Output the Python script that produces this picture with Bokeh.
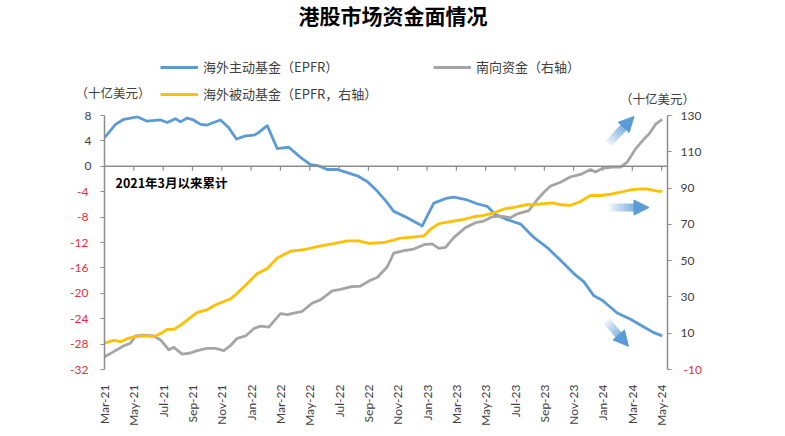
import numpy as np
from bokeh.plotting import figure
from bokeh.layouts import column, row
from bokeh.models import (Range1d, LinearAxis, FixedTicker, Label, Legend, LegendItem,
                          Arrow, NormalHead, Span)
from bokeh.embed import file_html
from bokeh.resources import INLINE

# ---------------- data (months since Mar-2021) ----------------
month_ticks = list(range(0, 39, 2))
month_labels = ["Mar-21", "May-21", "Jul-21", "Sep-21", "Nov-21", "Jan-22", "Mar-22",
                "May-22", "Jul-22", "Sep-22", "Nov-22", "Jan-23", "Mar-23", "May-23",
                "Jul-23", "Sep-23", "Nov-23", "Jan-24", "Mar-24", "May-24"]

left_ticks = [-32, -28, -24, -20, -16, -12, -8, -4, 0, 4, 8]
right_ticks = [-10, 10, 30, 50, 70, 90, 110, 130]

# 海外主动基金（EPFR）, left axis
active_t = [0, 0.75, 1.32, 2.23, 2.91, 3.82, 4.28, 4.84, 5.18, 5.64, 6.07, 6.55, 7.0, 7.44,
            7.91, 8.46, 9.0, 9.62, 10.18, 10.5, 11.1, 11.78, 12.57, 13.37, 14.05, 14.62,
            15.19, 15.87, 16.56, 17.24, 17.92, 18.6, 19.17, 19.73, 20.65, 21.67, 22.46,
            23.38, 23.83, 24.74, 25.42, 26.1, 26.67, 27.47, 28.38, 29.28, 30.2, 31.1,
            32.01, 32.7, 33.38, 33.95, 34.97, 35.88, 36.79, 37.47, 38.04]
active_v = [4.5, 6.6, 7.4, 7.8, 7.1, 7.3, 6.9, 7.5, 7.0, 7.6, 7.3, 6.6, 6.5, 6.9,
            7.3, 6.1, 4.3, 4.8, 4.9, 5.3, 6.4, 2.8, 3.0, 1.4, 0.26, 0.05,
            -0.5, -0.5, -1.0, -1.5, -2.4, -3.9, -5.4, -7.1, -8.1, -9.4, -5.8,
            -5.0, -4.85, -5.3, -5.9, -6.3, -7.6, -8.4, -9.1, -11.2, -12.8, -14.8,
            -16.9, -18.2, -20.4, -21.1, -23.1, -24.1, -25.3, -26.2, -26.7]

# 南向资金（右轴）
south_t = [0, 0.75, 1.32, 1.77, 2.11, 2.68, 3.36, 3.82, 4.39, 4.73, 5.3, 5.87, 6.32, 7.0,
           7.57, 8.14, 8.59, 9.05, 9.62, 10.18, 10.64, 11.21, 12.0, 12.46, 13.49, 14.17,
           14.73, 15.53, 16.1, 16.78, 17.46, 18.14, 18.6, 19.05, 19.28, 19.73, 20.42,
           21.1, 21.78, 22.35, 22.8, 23.26, 23.83, 24.62, 25.31, 25.87, 26.45, 27.01,
           27.69, 28.15, 28.94, 29.52, 29.97, 30.42, 31.1, 31.79, 32.47, 33.15, 33.49,
           33.95, 34.63, 35.2, 35.65, 36.22, 36.79, 37.13, 37.59, 38.04]
south_v = [-3.0, 0.4, 3.1, 4.5, 8.5, 9.0, 8.5, 6.3, 0.9, 2.2, -1.5, -0.9, 0.4, 1.6,
           1.6, 0.4, 3.1, 7.2, 8.5, 12.5, 13.9, 13.4, 20.8, 20.2, 22.1, 26.6,
           28.4, 33.3, 34.2, 35.6, 36.0, 39.2, 40.7, 44.6, 46.5, 54.1, 55.5,
           56.4, 58.8, 59.2, 56.8, 57.3, 62.8, 68.2, 70.9, 71.8, 74.2, 74.5,
           73.6, 75.8, 77.6, 83.6, 87.7, 91.1, 93.2, 96.2, 97.5, 100.2, 98.9,
           100.8, 101.6, 101.6, 104.3, 111.6, 117.0, 119.7, 125.2, 127.9]

# 海外被动基金（EPFR，右轴）
passive_t = [0, 0.63, 1.09, 1.55, 2.0, 2.68, 3.36, 3.82, 4.28, 4.73, 5.18, 5.75, 6.32, 7.0,
             7.57, 8.14, 8.59, 9.05, 9.62, 9.96, 10.42, 11.1, 11.78, 12.69, 13.59, 14.51,
             15.42, 16.56, 17.35, 18.03, 19.05, 19.51, 20.19, 20.87, 21.78, 22.24, 22.8,
             23.6, 24.51, 25.19, 25.87, 26.56, 27.24, 27.92, 28.72, 29.28, 29.97, 30.65,
             31.1, 31.79, 32.47, 33.15, 33.83, 34.52, 35.2, 35.88, 36.56, 37.02, 37.59, 38.04]
passive_v = [4.5, 6.1, 5.3, 7.0, 8.0, 8.5, 8.1, 9.8, 12.1, 12.1, 14.3, 17.9, 21.5, 22.9,
             25.7, 27.5, 28.9, 32.0, 36.5, 39.2, 42.9, 45.6, 51.5, 55.2, 56.0, 57.7,
             59.1, 60.9, 60.9, 59.5, 60.0, 60.9, 62.4, 62.8, 63.6, 67.3, 70.4,
             71.5, 72.7, 74.2, 74.9, 76.3, 78.5, 79.4, 80.8, 80.8, 81.4, 81.8,
             80.8, 80.5, 82.6, 85.9, 85.9, 86.6, 87.7, 89.0, 89.5, 89.5, 88.4, 88.1]

series_names = ["海外主动基金（EPFR）", "南向资金（右轴）", "海外被动基金（EPFR，右轴）"]
title_text = "港股市场资金面情况"
unit_text = "（十亿美元）"
note_text = "2021年3月以来累计"

# ---------------- layout / style ----------------
W = 777
HEAD_H = 106
MAIN_H = 322
FL, FR = 104, 667              # frame left/right (px)
FT, FB = 115, 373              # frame top/bottom (page px)
X0, X1 = 0, 38.4
Y0, Y1 = -32, 8
R0, R1 = -10, 130

def dx(px):   # page px -> data x
    return X0 + (px - FL) * (X1 - X0) / (FR - FL)

def dy(py):   # page px -> left-axis data y
    return Y1 - (py - FT) * (Y1 - Y0) / (FB - FT)

BLUE = "#5b9bd5"
GRAY = "#a5a5a5"
YELLOW = "#ffc000"
AXIS = "#8c8c8c"
TXT = "#404040"
RED = "#e0303c"
CJK = "Noto Sans CJK SC"
NUM = "Lato"
LW = 2.8

# ================= header figure (title, legend, units) =================
head = figure(width=W, height=HEAD_H, output_backend="svg", toolbar_location=None,
              x_range=Range1d(0, W), y_range=Range1d(HEAD_H, 0),
              x_axis_type=None, y_axis_type=None,
              min_border_left=0, min_border_right=0, min_border_top=0, min_border_bottom=0)
head.title.visible = False
head.xgrid.visible = False
head.ygrid.visible = False
head.outline_line_color = None

# legend swatches (kept outside the visible header range)
hb = head.line(x=[-20, -10], y=[-20, -20], line_color=BLUE, line_width=LW)
hg = head.line(x=[-20, -10], y=[-20, -20], line_color=GRAY, line_width=LW)
hy = head.line(x=[-20, -10], y=[-20, -20], line_color=YELLOW, line_width=LW)

legend = Legend(items=[LegendItem(label=series_names[0], renderers=[hb]),
                       LegendItem(label=series_names[1], renderers=[hg]),
                       LegendItem(label=series_names[2], renderers=[hy])],
                orientation="horizontal", ncols=2,
                location=(160, HEAD_H - 103.5),
                glyph_width=38, glyph_height=20, label_height=20, label_width=223,
                label_standoff=5, spacing=7, padding=0, margin=0,
                border_line_alpha=0, background_fill_alpha=0,
                label_text_font=CJK, label_text_font_size="13px",
                label_text_color=TXT)
head.add_layout(legend, "center")

head.add_layout(Label(x=392.5, y=14, text=title_text, text_align="center",
                      text_baseline="middle", text_font=CJK, text_font_size="21px",
                      text_font_style="bold", text_color="black"))
head.add_layout(Label(x=112.5, y=92, text=unit_text, text_align="center",
                      text_baseline="middle", text_font=CJK, text_font_size="12.5px",
                      text_color=TXT))
head.add_layout(Label(x=657, y=97.5, text=unit_text, text_align="center",
                      text_baseline="middle", text_font=CJK, text_font_size="12.5px",
                      text_color=TXT))

# ================= main chart =================
p = figure(width=W, height=MAIN_H, output_backend="svg", toolbar_location=None,
           x_range=Range1d(X0, X1), y_range=Range1d(Y0, Y1),
           min_border_left=FL, min_border_right=W - FR,
           min_border_top=FT - HEAD_H, min_border_bottom=HEAD_H + MAIN_H - FB)
p.title.visible = False
p.xgrid.visible = False
p.ygrid.visible = False
p.outline_line_color = None
p.extra_y_ranges = {"r": Range1d(R0, R1)}

def style_axis(ax, color):
    ax.major_label_text_font = NUM
    ax.major_label_text_font_size = "12px"
    ax.major_label_text_color = color
    ax.minor_tick_line_color = None

# bottom (category) axis: labels only
xa = p.xaxis[0]
xa.ticker = FixedTicker(ticks=month_ticks)
xa.major_label_overrides = {t: l for t, l in zip(month_ticks, month_labels)}
xa.major_label_orientation = np.pi / 2
xa.axis_line_color = None
xa.major_tick_line_color = None
xa.major_label_standoff = 9
style_axis(xa, TXT)

# left axis (line, ticks, non-negative labels)
ya = p.yaxis[0]
ya.ticker = FixedTicker(ticks=left_ticks)
ya.major_label_overrides = {t: (str(t) if t >= 0 else "") for t in left_ticks}
ya.axis_line_color = AXIS
ya.axis_line_width = 1.5
ya.major_tick_line_color = AXIS
ya.major_tick_line_width = 1.2
ya.major_tick_out = 4
ya.major_tick_in = 0
ya.major_label_standoff = 9
style_axis(ya, TXT)

# left axis companion: negative labels in red
ya2 = LinearAxis(ticker=FixedTicker(ticks=left_ticks))
ya2.major_label_overrides = {t: (str(t) if t < 0 else "") for t in left_ticks}
ya2.axis_line_color = None
ya2.major_tick_line_color = None
ya2.major_tick_out = 0
ya2.major_tick_in = 0
ya2.major_label_standoff = -7
style_axis(ya2, RED)
p.add_layout(ya2, "left")

# right axis
ra = LinearAxis(y_range_name="r", ticker=FixedTicker(ticks=right_ticks))
ra.major_label_overrides = {t: (str(t) if t >= 0 else "") for t in right_ticks}
ra.axis_line_color = AXIS
ra.axis_line_width = 1.5
ra.major_tick_line_color = AXIS
ra.major_tick_line_width = 1.2
ra.major_tick_out = 4
ra.major_tick_in = 0
ra.major_label_standoff = 9
style_axis(ra, TXT)
p.add_layout(ra, "right")

ra2 = LinearAxis(y_range_name="r", ticker=FixedTicker(ticks=right_ticks))
ra2.major_label_overrides = {t: (str(t) if t < 0 else "") for t in right_ticks}
ra2.axis_line_color = None
ra2.major_tick_line_color = None
ra2.major_tick_out = 0
ra2.major_tick_in = 0
ra2.major_label_standoff = -21
style_axis(ra2, RED)
p.add_layout(ra2, "right")

# zero line with category ticks
p.add_layout(Span(location=0, dimension="width", line_color=AXIS, line_width=1.5))
p.segment(x0=month_ticks[1:], y0=[0] * (len(month_ticks) - 1), x1=month_ticks[1:],
          y1=[dy(166 + 5)] * (len(month_ticks) - 1), line_color=AXIS, line_width=1.2)

# series
rb = p.line(active_t, active_v, line_color=BLUE, line_width=LW, line_join="round")
rg = p.line(south_t, south_v, line_color=GRAY, line_width=LW, line_join="round",
            y_range_name="r")
ry = p.line(passive_t, passive_v, line_color=YELLOW, line_width=LW, line_join="round",
            y_range_name="r")

p.add_layout(Label(x=dx(115), y=dy(183), text=note_text, text_align="left",
                   text_baseline="middle", text_font=CJK, text_font_size="12.5px",
                   text_font_style="bold", text_color="black"))

# decorative gradient arrows
def grad_arrow(x0p, y0p, x1p, y1p):
    n = 10
    frac = 0.72
    for i in range(n):
        a0 = frac * i / n
        a1 = frac * (i + 1) / n
        p.segment(x0=[dx(x0p + (x1p - x0p) * a0)], y0=[dy(y0p + (y1p - y0p) * a0)],
                  x1=[dx(x0p + (x1p - x0p) * a1)], y1=[dy(y0p + (y1p - y0p) * a1)],
                  line_color=BLUE, line_width=8, line_alpha=0.05 + 0.85 * (i + 1) / n,
                  line_cap="butt")
    sx = x0p + (x1p - x0p) * 0.7
    sy = y0p + (y1p - y0p) * 0.7
    p.add_layout(Arrow(end=NormalHead(size=15, fill_color=BLUE, line_color=BLUE),
                       x_start=dx(sx), y_start=dy(sy), x_end=dx(x1p), y_end=dy(y1p),
                       line_alpha=0))

grad_arrow(608, 143.5, 633.5, 116)
grad_arrow(609, 208.5, 648.5, 208.5)
grad_arrow(606, 323.5, 628, 349.5)

layout = column(row(head), p, spacing=0)
open("out.html", "w").write(file_html(layout, INLINE))
